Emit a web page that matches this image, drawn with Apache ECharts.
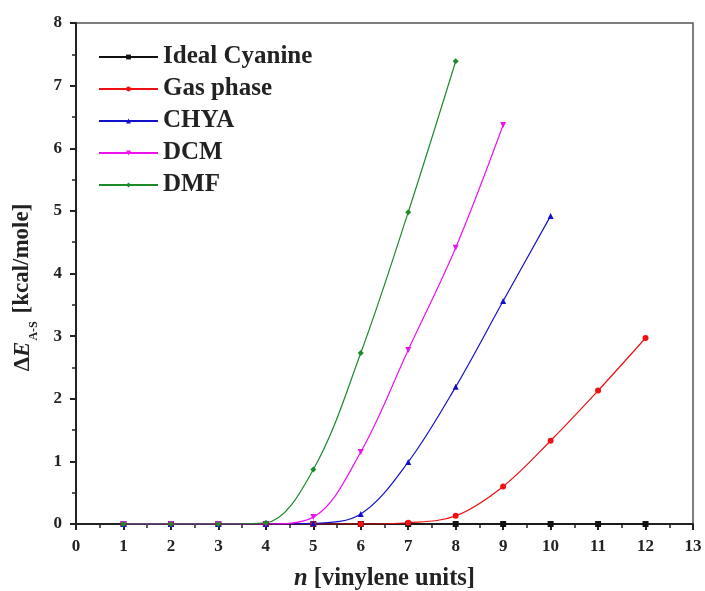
<!DOCTYPE html>
<html>
<head>
<meta charset="utf-8">
<script src="https://cdn.jsdelivr.net/npm/echarts@6/dist/echarts.min.js"></script>
<style>
  html, body { margin: 0; padding: 0; background: #fff; }
  #chart { width: 705px; height: 591px; }
</style>
</head>
<body>
<div id="chart"></div>
<script>
// values (n = 1, 2, 3, ...)
var nIdeal = [1, 2, 3, 4, 5, 6, 7, 8, 9, 10, 11, 12];
var ideal  = [0, 0, 0, 0, 0, 0, 0, 0, 0, 0, 0, 0];
var nGas   = [1, 2, 3, 4, 5, 6, 7, 8, 9, 10, 11, 12];
var gas    = [0, 0, 0, 0, 0, 0, 0.02, 0.13, 0.6, 1.33, 2.13, 2.97];
var nChya  = [1, 2, 3, 4, 5, 6, 7, 8, 9, 10];
var chya   = [0, 0, 0, 0, 0.01, 0.16, 0.99, 2.19, 3.56, 4.92];
var nDcm   = [1, 2, 3, 4, 5, 6, 7, 8, 9];
var dcm    = [0, 0, 0, 0, 0.11, 1.15, 2.78, 4.41, 6.37];
var nDmf   = [1, 2, 3, 4, 5, 6, 7, 8];
var dmf    = [0, 0, 0, 0.02, 0.87, 2.73, 4.98, 7.39];

var serifFont = '"Liberation Serif", "DejaVu Serif", serif';

function pairs(xs, ys) {
    var out = [];
    for (var i = 0; i < xs.length; i++) out.push([xs[i], ys[i]]);
    return out;
}

function mkSeries(name, xs, ys, color, symbol, rotate) {
    return {
        name: name,
        type: 'line',
        data: pairs(xs, ys),
        smooth: 0.35,
        symbol: symbol,
        symbolSize: 6,
        symbolRotate: rotate || 0,
        showAllSymbol: true,
        lineStyle: { color: color, width: 1.2 },
        itemStyle: { color: color },
        emphasis: { disabled: true }
    };
}

var myChart = echarts.init(document.getElementById('chart'));
var option = {
    animation: false,
    grid: {
        left: 76, right: 12, top: 23, bottom: 67,
        outerBoundsMode: 'none',
        show: true,
        borderColor: '#555',
        borderWidth: 1.5,
        backgroundColor: 'transparent'
    },
    legend: {
        orient: 'vertical',
        left: 93,
        top: 39,
        itemWidth: 59,
        itemHeight: 6,
        itemGap: 6,
        textStyle: { fontFamily: serifFont, fontWeight: 'bold', fontSize: 25, lineHeight: 26, color: '#222' },
        data: ['Ideal Cyanine', 'Gas phase', 'CHYA', 'DCM', 'DMF']
    },
    xAxis: {
        type: 'value',
        min: 0, max: 13, interval: 1,
        name: '{i|n} [vinylene units]',
        nameLocation: 'middle',
        nameGap: 42,
        nameTextStyle: {
            fontFamily: serifFont, fontWeight: 'bold', fontSize: 24.5, color: '#222',
            rich: { i: { fontFamily: serifFont, fontWeight: 'bold', fontStyle: 'italic', fontSize: 24.5, color: '#222' } }
        },
        axisLine: { onZero: false, lineStyle: { color: '#222', width: 2 } },
        axisTick: { inside: false, length: 6, lineStyle: { color: '#222', width: 2 } },
        minorTick: { show: true, splitNumber: 2, length: 4, lineStyle: { color: '#222', width: 1.5 } },
        splitLine: { show: false },
        axisLabel: { fontFamily: serifFont, fontWeight: 'bold', fontSize: 17, color: '#222', margin: 14 }
    },
    yAxis: {
        type: 'value',
        min: 0, max: 8, interval: 1,
        name: '{d|Δ}{i|E}{s|A-S} [kcal/mole]',
        nameLocation: 'middle',
        nameRotate: 90,
        nameGap: 41,
        nameTextStyle: {
            fontFamily: serifFont, fontWeight: 'bold', fontSize: 23, color: '#222',
            padding: [0, 28, 0, 0],
            rich: {
                d: { fontFamily: serifFont, fontWeight: 'bold', fontSize: 23, color: '#222', lineHeight: 26, verticalAlign: 'bottom' },
                i: { fontFamily: serifFont, fontWeight: 'bold', fontStyle: 'italic', fontSize: 23, color: '#222', lineHeight: 26, verticalAlign: 'bottom' },
                s: { fontFamily: serifFont, fontWeight: 'bold', fontSize: 12, color: '#222', lineHeight: 26, verticalAlign: 'bottom', padding: [0, 2, -5, 1] }
            }
        },
        axisLine: { onZero: false, lineStyle: { color: '#222', width: 2 } },
        axisTick: { inside: false, length: 6, lineStyle: { color: '#222', width: 2 } },
        minorTick: { show: true, splitNumber: 2, length: 4, lineStyle: { color: '#222', width: 1.5 } },
        splitLine: { show: false },
        axisLabel: { fontFamily: serifFont, fontWeight: 'bold', fontSize: 17, color: '#222', margin: 14 }
    },
    series: [
        mkSeries('Ideal Cyanine', nIdeal, ideal, '#111111', 'rect'),
        mkSeries('Gas phase', nGas, gas, '#ee1111', 'circle'),
        mkSeries('CHYA', nChya, chya, '#1111cc', 'triangle'),
        mkSeries('DCM', nDcm, dcm, '#ee11ee', 'triangle', 180),
        mkSeries('DMF', nDmf, dmf, '#1a8a2a', 'diamond')
    ]
};
myChart.setOption(option);
</script>
</body>
</html>
